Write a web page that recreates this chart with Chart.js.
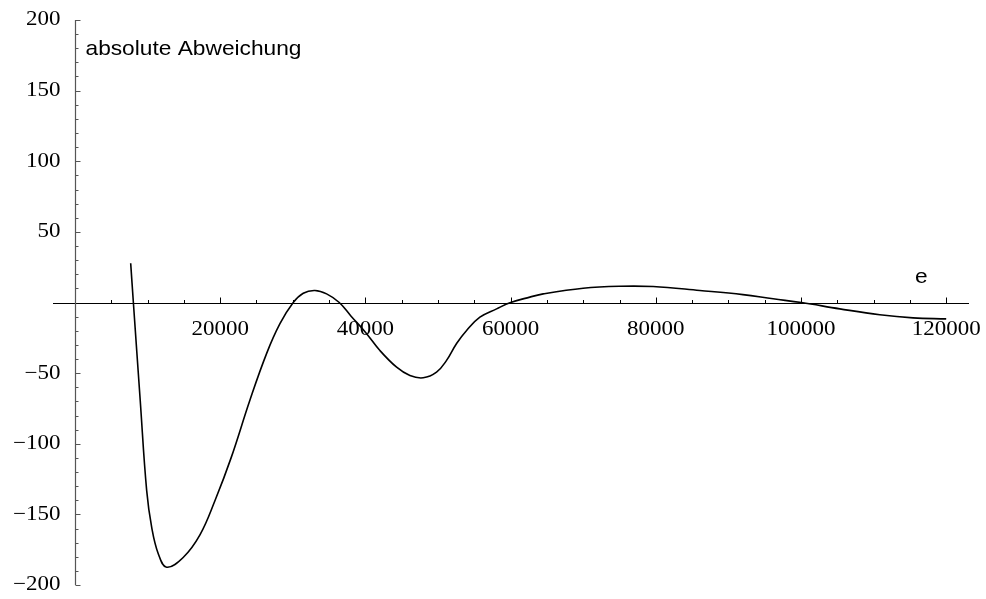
<!DOCTYPE html>
<html>
<head>
<meta charset="utf-8">
<script src="https://cdn.jsdelivr.net/npm/chart.js@4/dist/chart.umd.min.js"></script>
<style>
  html, body { margin: 0; padding: 0; background: #fff; }
  #wrap { width: 986px; height: 599px; }
</style>
</head>
<body>
<div id="wrap"><canvas id="c" width="986" height="599"></canvas></div>
<script>
// e values (x) and absolute deviation (y)
const eValues = [7670, 8040, 8980, 9870, 10560, 11480, 12620, 14900, 17210, 19300, 21500, 24100, 26400, 28230, 30060, 31440, 33050, 34660, 36400, 38000, 40000, 42000, 44300, 46130, 47960, 49800, 51180, 52560, 53940, 55770, 58070, 60000, 62650, 64490, 69990, 75050, 79630, 86060, 92000, 96160, 100060, 105340, 110850, 115430, 120000];
const deviation = [27.8, 0, -69, -133, -159, -178, -187.4, -180.5, -164.5, -140, -110, -69, -36, -15, 0, 6.6, 8.5, 6.1, 0, -9.5, -21, -34, -45.8, -51.7, -53.3, -49.3, -41, -29, -19.8, -10.4, -4.5, 0, 3.8, 6.1, 10.1, 11.5, 11.3, 8.5, 5.6, 2.6, 0, -4.5, -8.7, -10.9, -11.6];
const xTickLabels = [20000, 40000, 60000, 80000, 100000, 120000];
const yTickLabels = [-200, -150, -100, -50, 50, 100, 150, 200];
const yAxisTitle = "absolute Abweichung";
const xAxisTitle = "e";

const points = eValues.map((e, i) => ({ x: e, y: deviation[i] }));

function stretchedText(ctx, text, x, y, sx, align) {
  ctx.save();
  const w = ctx.measureText(text).width * sx;
  let left = x;
  if (align === 'center') left = x - w / 2;
  else if (align === 'right') left = x - w;
  ctx.translate(left, y);
  ctx.scale(sx, 1);
  ctx.textAlign = 'left';
  ctx.fillText(text, 0, 0);
  ctx.restore();
}

const axesPlugin = {
  id: 'mathAxes',
  beforeDatasetsDraw(chart) {
    const ctx = chart.ctx;
    const xs = chart.scales.x, ys = chart.scales.y;
    const area = chart.chartArea;
    const x0 = Math.round(xs.getPixelForValue(0)) + 0.5;
    const y0 = Math.round(ys.getPixelForValue(0)) + 0.5;
    ctx.save();
    // x axis
    ctx.strokeStyle = '#000';
    ctx.lineWidth = 1.2;
    ctx.beginPath();
    ctx.moveTo(area.left, y0);
    ctx.lineTo(area.right, y0);
    ctx.stroke();
    ctx.lineWidth = 1;
    for (let v = 5000; v <= 120000; v += 5000) {
      const px = Math.round(xs.getPixelForValue(v)) + 0.5;
      const len = (v % 20000 === 0) ? 6 : 3.5;
      ctx.beginPath();
      ctx.moveTo(px, y0);
      ctx.lineTo(px, y0 - len);
      ctx.stroke();
    }
    // y axis
    ctx.strokeStyle = '#555';
    ctx.lineWidth = 1.2;
    ctx.beginPath();
    ctx.moveTo(x0, ys.getPixelForValue(200));
    ctx.lineTo(x0, ys.getPixelForValue(-200));
    ctx.stroke();
    ctx.lineWidth = 1;
    for (let v = -200; v <= 200; v += 10) {
      if (v === 0) continue;
      const py = Math.round(ys.getPixelForValue(v)) + 0.5;
      const len = (v % 50 === 0) ? 5 : 3;
      ctx.beginPath();
      ctx.moveTo(x0, py);
      ctx.lineTo(x0 + len, py);
      ctx.stroke();
    }
    // tick labels
    ctx.fillStyle = '#000';
    ctx.font = '20.5px "Liberation Serif", "Times New Roman", serif';
    ctx.textBaseline = 'middle';
    xTickLabels.forEach(v => {
      stretchedText(ctx, String(v), xs.getPixelForValue(v), y0 + 26, 1.12, 'center');
    });
    yTickLabels.forEach(v => {
      const t = (v < 0 ? '\u2212' : '') + Math.abs(v);
      stretchedText(ctx, t, x0 - 15, ys.getPixelForValue(v), 1.12, 'right');
    });
    // axis titles
    ctx.font = '20.3px "Liberation Sans", Arial, sans-serif';
    ctx.textBaseline = 'alphabetic';
    stretchedText(ctx, yAxisTitle, x0 + 10, 55, 1.12, 'left');
    stretchedText(ctx, xAxisTitle, 915, 283, 1.12, 'left');
    ctx.restore();
  }
};

new Chart(document.getElementById('c'), {
  type: 'scatter',
  data: {
    datasets: [{
      data: points,
      showLine: true,
      borderColor: '#000',
      borderWidth: 1.6,
      pointRadius: 0,
      tension: 0.4,
      fill: false
    }]
  },
  options: {
    responsive: false,
    animation: false,
    layout: { padding: { left: 53, right: 17, top: 20, bottom: 14 } },
    plugins: { legend: { display: false }, tooltip: { enabled: false } },
    scales: {
      x: { type: 'linear', display: false, min: -3030, max: 123140 },
      y: { type: 'linear', display: false, min: -200, max: 200 }
    }
  },
  plugins: [axesPlugin]
});
</script>
</body>
</html>
